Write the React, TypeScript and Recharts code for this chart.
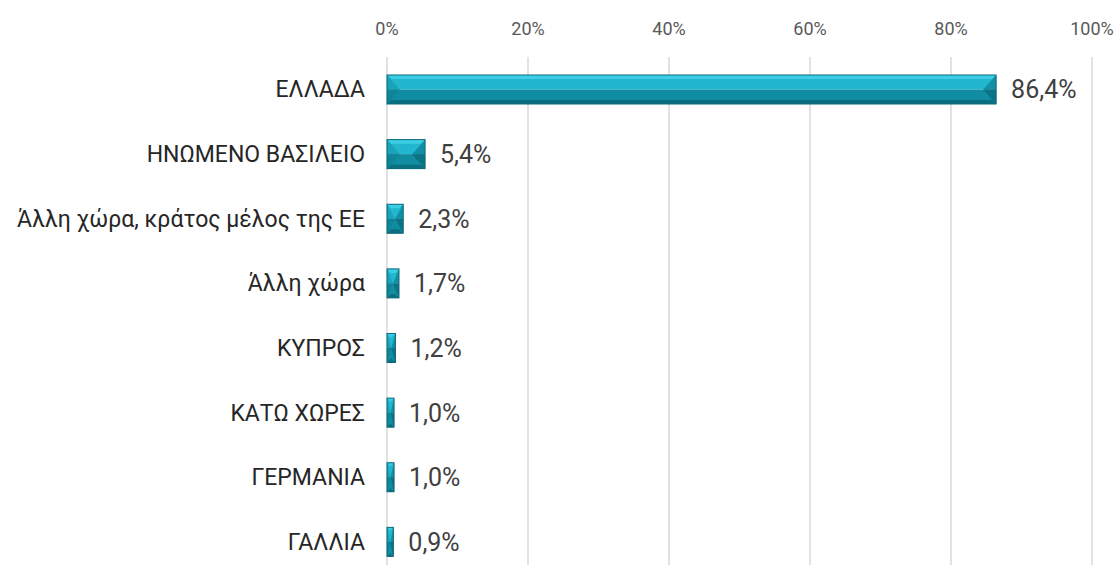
import { BarChart, Bar, XAxis, YAxis, CartesianGrid, LabelList } from "recharts"

const countries = [
  "ΕΛΛΑΔΑ",
  "ΗΝΩΜΕΝΟ ΒΑΣΙΛΕΙΟ",
  "Άλλη χώρα, κράτος μέλος της ΕΕ",
  "Άλλη χώρα",
  "ΚΥΠΡΟΣ",
  "ΚΑΤΩ ΧΩΡΕΣ",
  "ΓΕΡΜΑΝΙΑ",
  "ΓΑΛΛΙΑ",
]
const shares = [86.4, 5.4, 2.3, 1.7, 1.2, 1.0, 1.0, 0.9]
const xTicks = [0, 20, 40, 60, 80, 100]

const data = countries.map((name, i) => ({ name, value: shares[i] }))

const FONT = "Roboto, 'DejaVu Sans', sans-serif"

// bevelled bar, like the office "bevel" shape effect
function BevelBar(props: any) {
  const { x, y, width: w, height: h } = props
  if (!w || w <= 0) return null
  const mid = y + h / 2
  const b = Math.min(13, w / 2)
  const t = Math.min(4, w / 2)
  return (
    <g>
      <rect x={x} y={y} width={w} height={h / 2} fill="#22b7cf" />
      <rect x={x} y={mid} width={w} height={h / 2} fill="#118da1" />
      {/* top & bottom edges */}
      <polygon points={`${x},${y} ${x + w},${y} ${x + w - t},${y + t} ${x + t},${y + t}`} fill="#3bcfe5" />
      <polygon points={`${x},${y + h} ${x + w},${y + h} ${x + w - t},${y + h - t} ${x + t},${y + h - t}`} fill="#0b6f80" />
      {/* end faces */}
      <polygon points={`${x},${y} ${x + b},${mid} ${x},${mid}`} fill="#19a2b8" />
      <polygon points={`${x},${mid} ${x + b},${mid} ${x},${y + h}`} fill="#0f8598" />
      <polygon points={`${x + w},${y} ${x + w - b},${mid} ${x + w},${mid}`} fill="#138fa3" />
      <polygon points={`${x + w},${mid} ${x + w - b},${mid} ${x + w},${y + h}`} fill="#0c7284" />
      <rect x={x} y={y} width={w} height={h} fill="none" stroke="#0d6a7a" strokeWidth={1} />
    </g>
  )
}

export default function App() {
  return (
    <div style={{ position: "absolute", left: 0, top: 0, background: "#fff" }}>
      <BarChart
        width={1117}
        height={574}
        data={data}
        layout="vertical"
        margin={{ top: 0, right: 25, bottom: 0, left: 0 }}
        barCategoryGap={35}
      >
        <CartesianGrid horizontal={false} stroke="#d9d9d9" strokeWidth={1.5} />
        <XAxis
          type="number"
          orientation="top"
          domain={[0, 100]}
          ticks={xTicks}
          tickFormatter={(v) => `${v}%`}
          height={57}
          axisLine={false}
          tickLine={false}
          tickSize={0}
          tickMargin={22}
          tick={{ fontSize: 18, fill: "#595959", fontFamily: FONT }}
        />
        <YAxis
          type="category"
          dataKey="name"
          width={387}
          axisLine={false}
          tickLine={false}
          tickSize={0}
          tickMargin={22}
          tick={{ fontSize: 23, fill: "#262626", fontFamily: FONT }}
        />
        <Bar dataKey="value" barSize={29} shape={<BevelBar />} isAnimationActive={false}>
          <LabelList
            dataKey="value"
            position="right"
            offset={15}
            formatter={(v: any) => `${Number(v).toFixed(1).replace(".", ",")}%`}
            style={{ fontSize: 25, fill: "#404040", fontFamily: FONT }}
          />
        </Bar>
      </BarChart>
    </div>
  )
}
